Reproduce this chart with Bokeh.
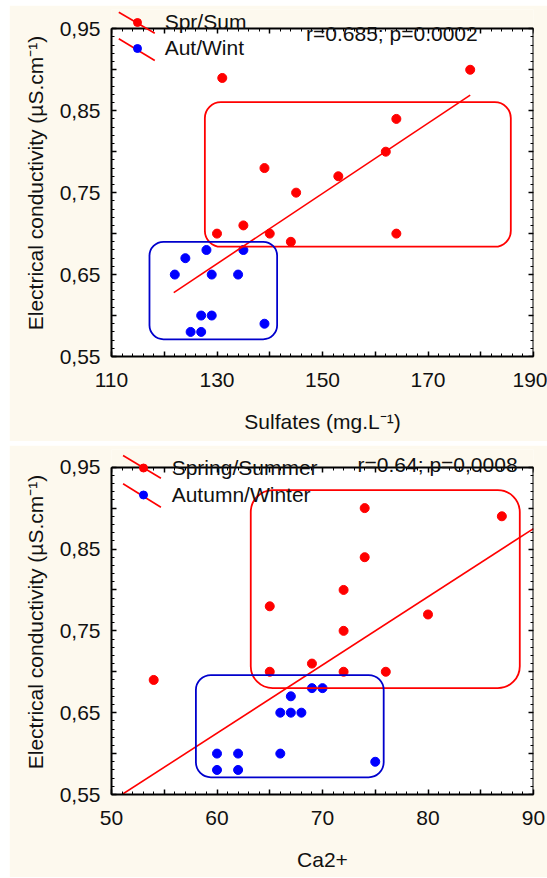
from bokeh.plotting import figure
from bokeh.models import (Range1d, FixedTicker, LinearAxis, BoxAnnotation, Label,
                          Arrow, Legend, LegendItem)
from bokeh.layouts import column
from bokeh.embed import file_html
from bokeh.resources import INLINE

# ---------------- data ----------------
# Panel 1: Sulfates vs electrical conductivity
sulf_ss = [131, 178, 164, 162, 139, 153, 145, 130, 135, 140, 144, 164]
ec1_ss = [0.89, 0.90, 0.84, 0.80, 0.78, 0.77, 0.75, 0.70, 0.71, 0.70, 0.69, 0.70]
sulf_aw = [128, 135, 124, 122, 129, 134, 127, 129, 139, 125, 127]
ec1_aw = [0.68, 0.68, 0.67, 0.65, 0.65, 0.65, 0.60, 0.60, 0.59, 0.58, 0.58]
fit1_x = [121.8, 178.0]
fit1_y = [0.628, 0.869]
box1_red = [127.7, 185.7, 0.8605, 0.684]   # left, right, top, bottom
box1_blue = [117.2, 141.4, 0.690, 0.571]
stat1 = "r=0.685; p=0.0002"
legend1 = ["Spr/Sum", "Aut/Wint"]

# Panel 2: Ca2+ vs electrical conductivity
ca_ss = [74, 87, 74, 72, 65, 80, 72, 69, 65, 72, 76, 54]
ec2_ss = [0.90, 0.89, 0.84, 0.80, 0.78, 0.77, 0.75, 0.71, 0.70, 0.70, 0.70, 0.69]
ca_aw = [69, 70, 67, 66, 67, 68, 60, 62, 66, 75, 60, 62]
ec2_aw = [0.68, 0.68, 0.67, 0.65, 0.65, 0.65, 0.60, 0.60, 0.60, 0.59, 0.58, 0.58]
fit2_x = [51.0, 90.0]
fit2_y = [0.55, 0.875]
box2_red = [63.2, 88.7, 0.922, 0.680]
box2_blue = [58.0, 75.8, 0.696, 0.571]
stat2 = "r=0.64; p=0,0008"
legend2 = ["Spring/Summer", "Autumn/Winter"]

# ticks
y_lo, y_hi = 0.55, 0.95
y_major = [0.55, 0.6, 0.65, 0.7, 0.75, 0.8, 0.85, 0.9, 0.95]
y_labels = ["0,55", "", "0,65", "", "0,75", "", "0,85", "", "0,95"]
y_minor = [round(0.55 + 0.01 * i, 2) for i in range(41)]
x1_major = [110, 120, 130, 140, 150, 160, 170, 180, 190]
x1_labels = ["110", "", "130", "", "150", "", "170", "", "190"]
x1_minor = list(range(110, 191, 2))
x2_major = [50, 55, 60, 65, 70, 75, 80, 85, 90]
x2_labels = ["50", "", "60", "", "70", "", "80", "", "90"]
x2_minor = list(range(50, 91, 1))

FONT = "Liberation Sans"
CREAM = "#fdf9ee"
RED = "#ff0000"
BLUE = "#0000ff"
BLUE_BOX = "#0000cc"
TXT = "#111111"


def style_axis(ax, ticker, overrides=None, show=True, outward=False):
    ax.ticker = ticker
    ax.axis_line_color = "black"
    ax.axis_line_width = 2
    if outward:
        ax.major_tick_in, ax.major_tick_out = 0, 5
        ax.minor_tick_in, ax.minor_tick_out = 0, 3
    else:
        ax.major_tick_in, ax.major_tick_out = 5, 0
        ax.minor_tick_in, ax.minor_tick_out = 3, 0
    ax.major_tick_line_width = 1.5
    ax.minor_tick_line_width = 1
    ax.major_tick_line_color = "black"
    ax.minor_tick_line_color = "black"
    if show:
        ax.major_label_overrides = overrides
        ax.major_label_text_font = FONT
        ax.major_label_text_font_size = "21px"
        ax.major_label_text_color = TXT
        ax.axis_label_text_font = FONT
        ax.axis_label_text_font_size = "21px"
        ax.axis_label_text_font_style = "normal"
        ax.axis_label_text_color = TXT
    else:
        ax.major_label_text_font_size = "0px"
        ax.major_label_text_color = None
        ax.major_label_standoff = 0


def panel(xs_ss, ys_ss, xs_aw, ys_aw, fx, fy, bred, bblue, stat, legtxt,
          xr, xmaj, xlab, xmin, xtitle, height, borders, frame_abs,
          leg, stat_px, arrows_px, radii, margin):
    # frame_abs: page pixels of x-range ends and of y=0.95 / y=0.55
    fl, fr, ft, fb = frame_abs
    left_b, right_b, top_b, bottom_b = borders
    yscale = (fb - ft) / (y_hi - y_lo)          # px per unit
    frame_h = height - top_b - bottom_b
    y_top = y_lo + frame_h / yscale              # frame extends above 0.95

    p = figure(width=538, height=height, output_backend="svg", toolbar_location=None,
               x_range=Range1d(*xr), y_range=Range1d(y_lo, y_top),
               min_border_left=left_b, min_border_right=right_b,
               min_border_top=top_b, min_border_bottom=bottom_b,
               background_fill_color=CREAM, border_fill_color=CREAM,
               outline_line_color=None, margin=margin)
    p.xgrid.visible = False
    p.ygrid.visible = False

    def dx(X):
        return xr[0] + (X - fl) * (xr[1] - xr[0]) / (fr - fl)

    def dy(Y):
        return y_hi - (Y - ft) / yscale

    # white plotting area (0.55 .. 0.95)
    p.add_layout(BoxAnnotation(bottom=y_lo, top=y_hi, fill_color="white", fill_alpha=1,
                               line_color=None, level="underlay"))

    xt = FixedTicker(ticks=xmaj, minor_ticks=xmin)
    yt = FixedTicker(ticks=y_major, minor_ticks=y_minor)
    style_axis(p.xaxis[0], xt, dict(zip(xmaj, xlab)))
    style_axis(p.yaxis[0], yt, dict(zip(y_major, y_labels)))
    p.yaxis[0].bounds = (y_lo, y_hi)
    p.xaxis[0].major_label_standoff = 16
    p.xaxis[0].axis_label_standoff = 20
    p.yaxis[0].major_label_standoff = 11
    p.yaxis[0].axis_label_standoff = 10
    p.xaxis[0].axis_label = xtitle
    p.yaxis[0].axis_label = "Electrical conductivity (µS.cm⁻¹)"

    # mirror axis on the right edge (placed in the left panel, ticks pointing inward)
    ax_r = LinearAxis(bounds=(y_lo, y_hi), fixed_location=xr[1])
    style_axis(ax_r, FixedTicker(ticks=y_major, minor_ticks=y_minor), show=False,
               outward=True)
    p.add_layout(ax_r, "left")
    # mirror axis on top of the plotting area
    ax_t = LinearAxis(fixed_location=y_hi)
    style_axis(ax_t, FixedTicker(ticks=xmaj, minor_ticks=xmin), show=False)
    p.add_layout(ax_t, "above")

    # group boxes
    p.add_layout(BoxAnnotation(left=bred[0], right=bred[1], top=bred[2], bottom=bred[3],
                               fill_color=None, fill_alpha=0, line_color=RED,
                               line_width=1.8, line_alpha=1, border_radius=radii[0]))
    p.add_layout(BoxAnnotation(left=bblue[0], right=bblue[1], top=bblue[2], bottom=bblue[3],
                               fill_color=None, fill_alpha=0, line_color=BLUE_BOX,
                               line_width=1.8, line_alpha=1, border_radius=radii[1]))

    r_ss = p.scatter(xs_ss, ys_ss, size=9, color=RED, line_color=RED)
    r_aw = p.scatter(xs_aw, ys_aw, size=9, color=BLUE, line_color=BLUE)
    p.line(fx, fy, line_color=RED, line_width=1.6)

    # statistic text
    p.add_layout(Label(x=dx(stat_px[0]), y=dy(stat_px[1]), text=stat,
                       text_font=FONT, text_font_size="21px", text_color=TXT,
                       text_align="left", text_baseline="middle"))

    # legend diagonal strokes
    for (X0, Y0, X1, Y1) in arrows_px:
        p.add_layout(Arrow(end=None, x_start=dx(X0), y_start=dy(Y0),
                           x_end=dx(X1), y_end=dy(Y1), line_color=RED, line_width=1.6))

    vx, vy, gh, standoff = leg
    lg = Legend(items=[LegendItem(label=legtxt[0], renderers=[r_ss]),
                       LegendItem(label=legtxt[1], renderers=[r_aw])],
                location=(vx, vy), orientation="vertical", padding=0, margin=0,
                spacing=0, glyph_width=20, glyph_height=gh, label_height=gh,
                label_standoff=standoff, border_line_color=None,
                background_fill_alpha=0, label_text_font=FONT,
                label_text_font_size="21px", label_text_color=TXT)
    p.add_layout(lg)
    return p


# page layout: top figure y 5..441, bottom figure y 445..877, both from x=9
p1 = panel(sulf_ss, ec1_ss, sulf_aw, ec1_aw, fit1_x, fit1_y, box1_red, box1_blue,
           stat1, legend1, (110, 190), x1_major, x1_labels, x1_minor,
           "Sulfates (mg.L⁻¹)", 436, (102, 14, 4, 85),
           (111, 533.3, 28.3, 356),
           (15.7, 294.7, 26, 18), (305.7, 33.3),
           [(118.3, 11.7, 154.3, 32.7), (118.3, 38.3, 154.3, 60)], (16, 14),
           (5, 0, 0, 9))

p2 = panel(ca_ss, ec2_ss, ca_aw, ec2_aw, fit2_x, fit2_y, box2_red, box2_blue,
           stat2, legend2, (50, 90), x2_major, x2_labels, x2_minor,
           "Ca2+", 432, (102, 9, 4, 83),
           (111, 538, 466.7, 794),
           (21.7, 285.8, 27, 19), (360, 464),
           [(122.7, 455, 161, 477.7), (122.7, 483.3, 161, 506.7)], (22, 15),
           (4, 0, 0, 9))

layout = column(p1, p2)
open("out.html", "w").write(file_html(layout, INLINE))
